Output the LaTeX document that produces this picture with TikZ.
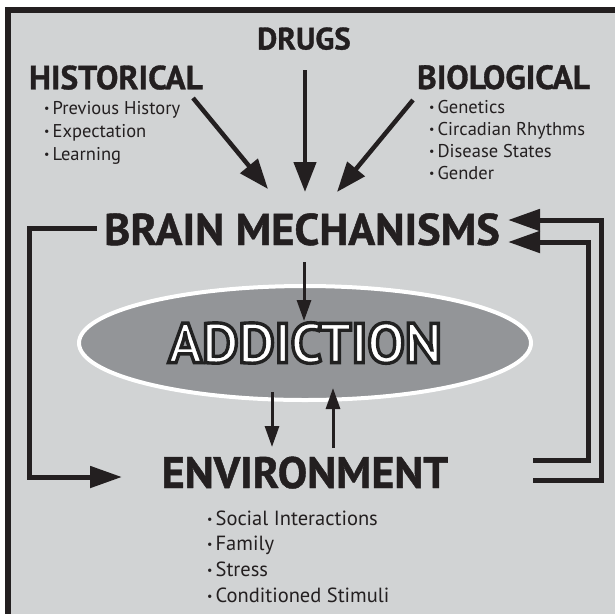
\documentclass[tikz,border=0pt]{standalone}
\usepackage{fontspec}
\setmainfont{PT Sans}
\newfontfamily\addfont[FakeBold=6]{PT Sans Bold}
\newfontfamily\headfont[FakeBold=1]{PT Sans Bold}
\usetikzlibrary{arrows.meta,shapes.geometric}
\definecolor{bgc}{RGB}{209,211,212}
\definecolor{ink}{RGB}{35,31,32}
\definecolor{ellc}{RGB}{147,149,152}
\newcommand\bul{\raisebox{1.8pt}{\fontsize{12}{12}\selectfont •}\hspace{3pt}}
\tikzset{
  head/.style={font=\headfont\fontsize{#1}{#1}\selectfont, text=ink, inner sep=0pt, anchor=base},
  item/.style={font=\fontsize{#1}{#1}\selectfont, text=ink, inner sep=0pt, anchor=base west},
  item/.default=18.5,
  bigarrow/.style={draw=ink, line width=4.5pt, -{Triangle[length=30pt,width=22pt]}},
  frame/.style={draw=ink, line width=5pt, miter limit=10, -{Triangle[length=32pt,width=21pt]}},
  thinarrow/.style={draw=ink, line width=3pt, -{Triangle[length=21pt,width=14pt]}}
}
\begin{document}
\begin{tikzpicture}[x=1pt,y=-1pt]
\useasboundingbox (0,0) rectangle (615,614);
\fill[white] (0,0) rectangle (615,614);
\fill[bgc] (5,7) rectangle (615,614);
\fill[ink] (5,7) rectangle (615,12.5);
\fill[ink] (5,7) rectangle (11,614);

% headings
\node[head=31] (drugs) at (304,49.5) {DRUGS};
\node[head=33.5] (hist) at (116,89.3) {HISTORICAL};
\node[head=33.5] (bio) at (503.5,89) {BIOLOGICAL};
\node[head=44.5] (brain) at (302,245) {BRAIN MECHANISMS};
\node[head=44] (env) at (305,488) {ENVIRONMENT};

% ellipse
\node[ellipse, draw=white, line width=4pt, fill=ellc, minimum width=452pt, minimum height=114pt, inner sep=0pt] (add) at (305,343)
  {\addfont\fontsize{56}{56}\selectfont\special{pdf:bcolor [1] [0.13]}ADDICTION\special{pdf:ecolor}};

% lists
\node[item] (h1) at (44,114) {\bul Previous History};
\node[item] (h2) at (44,137) {\bul Expectation};
\node[item] (h3) at (44,160) {\bul Learning};
\node[item] (b1) at (429,113) {\bul Genetics};
\node[item] (b2) at (429,135.5) {\bul Circadian Rhythms};
\node[item] (b3) at (429,157.5) {\bul Disease States};
\node[item] (b4) at (429,179.5) {\bul Gender};
\node[item=20.5] (e1) at (207,525) {\bul Social Interactions};
\node[item=20.5] (e2) at (207,550.5) {\bul Family};
\node[item=20.5] (e3) at (207,576) {\bul Stress};
\node[item=20.5] (e4) at (207,602) {\bul Conditioned Stimuli};

% arrow end points
\coordinate (hs) at (193,98);  \coordinate (ht) at (268,189);
\coordinate (ds) at (305,70);  \coordinate (dt) at (305,192);
\coordinate (bs) at (413,100); \coordinate (bt) at (337,192);
\coordinate (ls) at (97,228);  \coordinate (lc) at (29.5,477); \coordinate (lt) at (122,477);
\coordinate (os) at (533,480); \coordinate (oc) at (601,220); \coordinate (ot) at (508,220);
\coordinate (is) at (533,460); \coordinate (ic) at (588,242); \coordinate (it) at (508,242);
\coordinate (ms) at (304,262); \coordinate (mt) at (304,321);
\coordinate (ds2) at (272,392); \coordinate (dt2) at (272,447);
\coordinate (us) at (333,448); \coordinate (ut) at (333,388);

\draw[bigarrow] (hs) -- (ht);
\draw[bigarrow] (ds) -- (dt);
\draw[bigarrow] (bs) -- (bt);
\draw[frame] (ls) -| (lc) -- (lt);
\draw[frame] (os) -| (oc) -- (ot);
\draw[frame] (is) -| (ic) -- (it);
\draw[thinarrow] (ms) -- (mt);
\draw[thinarrow] (ds2) -- (dt2);
\draw[thinarrow] (us) -- (ut);
\end{tikzpicture}
\end{document}
